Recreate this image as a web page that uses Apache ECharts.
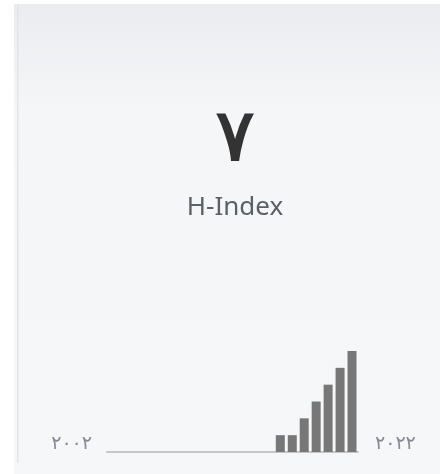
<!DOCTYPE html>
<html>
<head>
<meta charset="utf-8">
<script src="https://cdn.jsdelivr.net/npm/echarts@6/dist/echarts.min.js"></script>
<style>
  html, body { margin: 0; padding: 0; background: #fff; }
  #chart { width: 440px; height: 474px; }
</style>
</head>
<body>
<div id="chart"></div>
<script>
// citations per year behind the h-index card
const years = [2002, 2003, 2004, 2005, 2006, 2007, 2008, 2009, 2010, 2011, 2012,
  2013, 2014, 2015, 2016, 2017, 2018, 2019, 2020, 2021, 2022]
const counts = [0, 0, 0, 0, 0, 0, 0, 0, 0, 0, 0, 0, 0, 0, 1, 1, 2, 3, 4, 5, 6]
const hIndex = 7
const metricName = 'H-Index'

// persian digits
const fa = n => String(n).replace(/\d/g, d => '۰۱۲۳۴۵۶۷۸۹'[d])

const chart = echarts.init(document.getElementById('chart'))

chart.setOption({
  animation: false,
  backgroundColor: '#fff',
  graphic: [
    {
      type: 'rect',
      z: -10,
      shape: { x: 14, y: 4, width: 430, height: 480 },
      style: {
        fill: {
          type: 'linear', x: 0, y: 0, x2: 0, y2: 1,
          colorStops: [
            { offset: 0, color: '#eaecef' },
            { offset: 0.22, color: '#f5f6f8' },
            { offset: 1, color: '#f6f7f9' }
          ]
        }
      }
    },
    {
      type: 'rect',
      z: -9,
      shape: { x: 17, y: 4, width: 1.5, height: 459 },
      style: { fill: '#e2e4e8' }
    },
    {
      type: 'text',
      x: 235,
      y: 141,
      style: {
        text: fa(hIndex),
        font: '72px "DejaVu Sans"',
        fill: '#333',
        stroke: '#333',
        lineWidth: 2,
        textAlign: 'center',
        textVerticalAlign: 'middle'
      }
    },
    {
      type: 'text',
      x: 235,
      y: 208,
      style: {
        text: metricName,
        font: '26px "Noto Sans"',
        fill: '#5c6168',
        textAlign: 'center',
        textVerticalAlign: 'middle'
      }
    },
    {
      type: 'text',
      x: 92,
      y: 444,
      style: {
        text: fa(years[0]),
        font: '19px "DejaVu Sans"',
        fill: '#858a93',
        textAlign: 'right',
        textVerticalAlign: 'middle'
      }
    },
    {
      type: 'text',
      x: 375,
      y: 444,
      style: {
        text: fa(years[years.length - 1]),
        font: '19px "DejaVu Sans"',
        fill: '#858a93',
        textAlign: 'left',
        textVerticalAlign: 'middle'
      }
    }
  ],
  grid: {
    left: 107,
    width: 251,
    top: 351,
    height: 101
  },
  xAxis: {
    type: 'category',
    data: years,
    axisLine: { lineStyle: { color: '#c6c6c6', width: 2 } },
    axisTick: { show: false },
    axisLabel: { show: false }
  },
  yAxis: {
    type: 'value',
    min: 0,
    max: 6,
    show: false,
    splitLine: { show: false }
  },
  series: [
    {
      type: 'bar',
      data: counts,
      barWidth: 9,
      itemStyle: { color: '#777' }
    }
  ]
})
</script>
</body>
</html>
